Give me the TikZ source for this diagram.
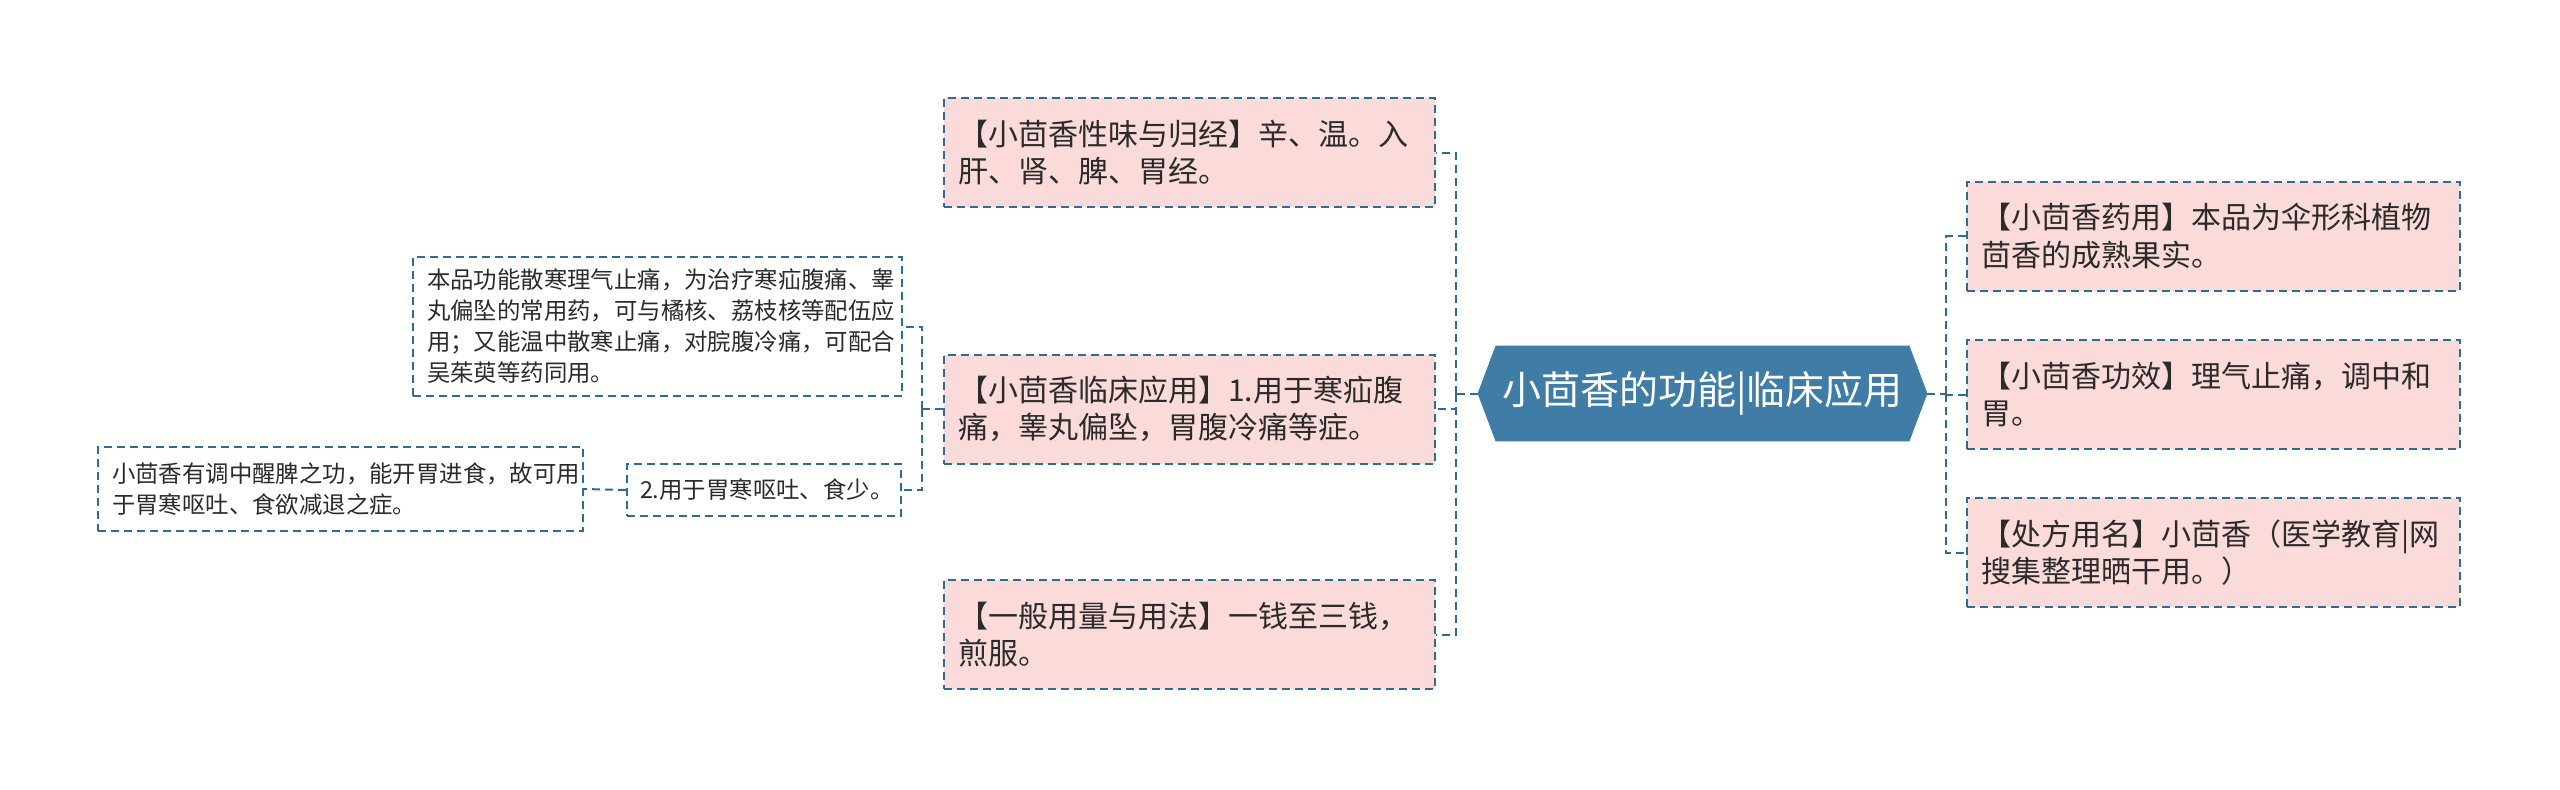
\documentclass[tikz,border=0pt]{standalone}
\usepackage{fontspec}
\setmainfont{Noto Sans CJK SC}
\usetikzlibrary{backgrounds}
\definecolor{bordc}{HTML}{2F6B95}
\definecolor{boxc}{HTML}{FADBDA}
\definecolor{hexc}{HTML}{3F7CA6}
\definecolor{txtc}{HTML}{2B2B2B}
\begin{document}
\begin{tikzpicture}[x=0.5pt,y=-0.5pt,
  box/.style={draw=bordc, fill=boxc, line width=1pt, dash pattern=on 4pt off 2.5pt,
    rectangle, inner xsep=7pt, inner ysep=0pt, align=left, text=txtc},
  mainbox/.style={box, minimum width=245.5pt, text width=231.5pt, minimum height=54.5pt,
    font=\fontsize{15pt}{18.8pt}\selectfont},
  rightbox/.style={box, minimum width=246.5pt, text width=232.5pt, minimum height=54.5pt,
    font=\fontsize{15pt}{18.8pt}\selectfont},
  subbox/.style={box, fill=white, font=\fontsize{11.7pt}{15.5pt}\selectfont},
  link/.style={draw=bordc, line width=1pt, dash pattern=on 4pt off 2.5pt},
  hexnode/.style={minimum width=224.5pt, minimum height=47.5pt, inner sep=0pt,
    text=white, font=\fontsize{19.5pt}{23pt}\selectfont}
]
\useasboundingbox (0,0) rectangle (2560,789);

% central topic
\node[hexnode] (hex) at (1702.5,393.5) {小茴香的功能|临床应用};
\begin{scope}[on background layer]
  \fill[white] (0,0) rectangle (2560,789);
  \fill[hexc] (hex.west) -- ([xshift=9pt]hex.north west) -- ([xshift=-9pt]hex.north east)
    -- (hex.east) -- ([xshift=-9pt]hex.south east) -- ([xshift=9pt]hex.south west) -- cycle;
\end{scope}

% left branches
\node[mainbox] (L1) at (1189.5,152.5) {【小茴香性味与归经】辛、温。入\\肝、肾、脾、胃经。};
\node[mainbox] (L2) at (1189.5,409) {【小茴香临床应用】1.用于寒疝腹\\痛，睾丸偏坠，胃腹冷痛等症。};
\node[mainbox] (L3) at (1189.5,634.5) {【一般用量与用法】一钱至三钱，\\煎服。};

% right branches
\node[rightbox] (R1) at (2213.5,236) {【小茴香药用】本品为伞形科植物\\茴香的成熟果实。};
\node[rightbox] (R2) at (2213.5,394.5) {【小茴香功效】理气止痛，调中和\\胃。};
\node[rightbox] (R3) at (2213.5,552.5) {【处方用名】小茴香（医学教育|网\\搜集整理晒干用。）};

% sub branches
\node[subbox, minimum width=244.5pt, text width=230.5pt, minimum height=69.5pt] (A) at (657.5,326.5)
  {本品功能散寒理气止痛，为治疗寒疝腹痛、睾\\丸偏坠的常用药，可与橘核、荔枝核等配伍应\\用；又能温中散寒止痛，对脘腹冷痛，可配合\\吴茱萸等药同用。};
\node[subbox, minimum width=137pt, text width=124pt, inner xsep=6.5pt, minimum height=26pt] (B) at (764,490)
  {2.用于胃寒呕吐、食少。};
\node[subbox, minimum width=242.5pt, text width=228.5pt, minimum height=42pt] (C) at (340.5,489)
  {小茴香有调中醒脾之功，能开胃进食，故可用\\于胃寒呕吐、食欲减退之症。};

% junctions
\coordinate (lj) at (1456,393.5);
\coordinate (rj) at (1946,393.5);
\coordinate (sj) at (922,409);

% connectors
\draw[link] (hex.west) -- (lj);
\draw[link] (lj) |- (L1.east);
\draw[link] (lj) |- (L2.east);
\draw[link] (lj) |- (L3.east);
\draw[link] (hex.east) -- (rj);
\draw[link] (rj) |- (R1.west);
\draw[link] (rj) |- (R2.west);
\draw[link] (rj) |- (R3.west);
\draw[link] (L2.west) -- (sj);
\draw[link] (sj) |- (A.east);
\draw[link] (sj) |- (B.east);
\draw[link] (B.west) -- (C.east);
\end{tikzpicture}
\end{document}
